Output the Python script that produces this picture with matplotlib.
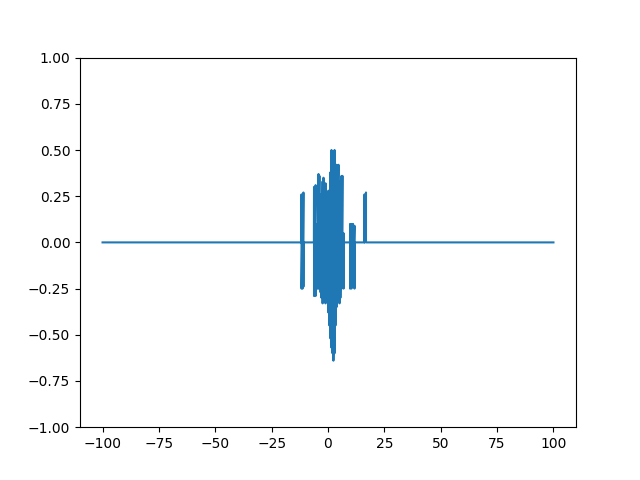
import matplotlib.pyplot as plt

# signal: flat at zero except a burst between x=-12 and x=17
# each burst stroke: position, upper swing, lower swing
stroke_x = [-11.75, -11.3, -10.9,
            -6.2, -5.5, -4.65, -4.2, -3.8, -3.3, -2.9, -2.4, -2.0, -1.55, -1.1,
            -0.65, -0.2, 0.2, 0.65, 1.1, 1.55, 2.0, 2.4, 2.9, 3.3, 3.8, 4.2,
            4.65, 5.1, 5.5, 6.0, 6.4, 6.9,
            9.8, 10.4, 11.1, 11.75,
            16.2, 16.85]
stroke_hi = [0.26, 0.16, 0.27,
             0.30, 0.31, 0.10, 0.37, 0.36, 0.26, 0.22, 0.33, 0.35, 0.30, 0.32,
             0.25, 0.20, 0.28, 0.25, 0.38, 0.50, 0.45, 0.49, 0.50, 0.40, 0.42, 0.38,
             0.42, 0.33, 0.25, 0.36, 0.36, 0.05,
             0.10, 0.10, 0.10, 0.09,
             0.26, 0.27]
stroke_lo = [-0.25, -0.25, -0.24,
             -0.29, -0.29, -0.25, -0.25, -0.22, -0.27, -0.30, -0.33, -0.30, -0.26, -0.33,
             -0.28, -0.30, -0.38, -0.45, -0.52, -0.57, -0.60, -0.64, -0.60, -0.45, -0.35, -0.30,
             -0.27, -0.33, -0.30, -0.25, -0.20, -0.25,
             -0.25, -0.25, -0.24, -0.25,
             0.0, 0.0]

xs = [-100.0]
ys = [0.0]
prev = -100.0
for x, hi, lo in zip(stroke_x, stroke_hi, stroke_lo):
    if x - prev > 1:
        xs += [prev + 0.05, x - 0.05]
        ys += [0.0, 0.0]
    xs += [x, x]
    ys += [hi, lo]
    prev = x
xs += [prev + 0.05, 100.0]
ys += [0.0, 0.0]

fig, ax = plt.subplots(figsize=(6.4, 4.8), dpi=100)
ax.plot(xs, ys)
ax.set_ylim(-1, 1)
plt.savefig('out.png')
